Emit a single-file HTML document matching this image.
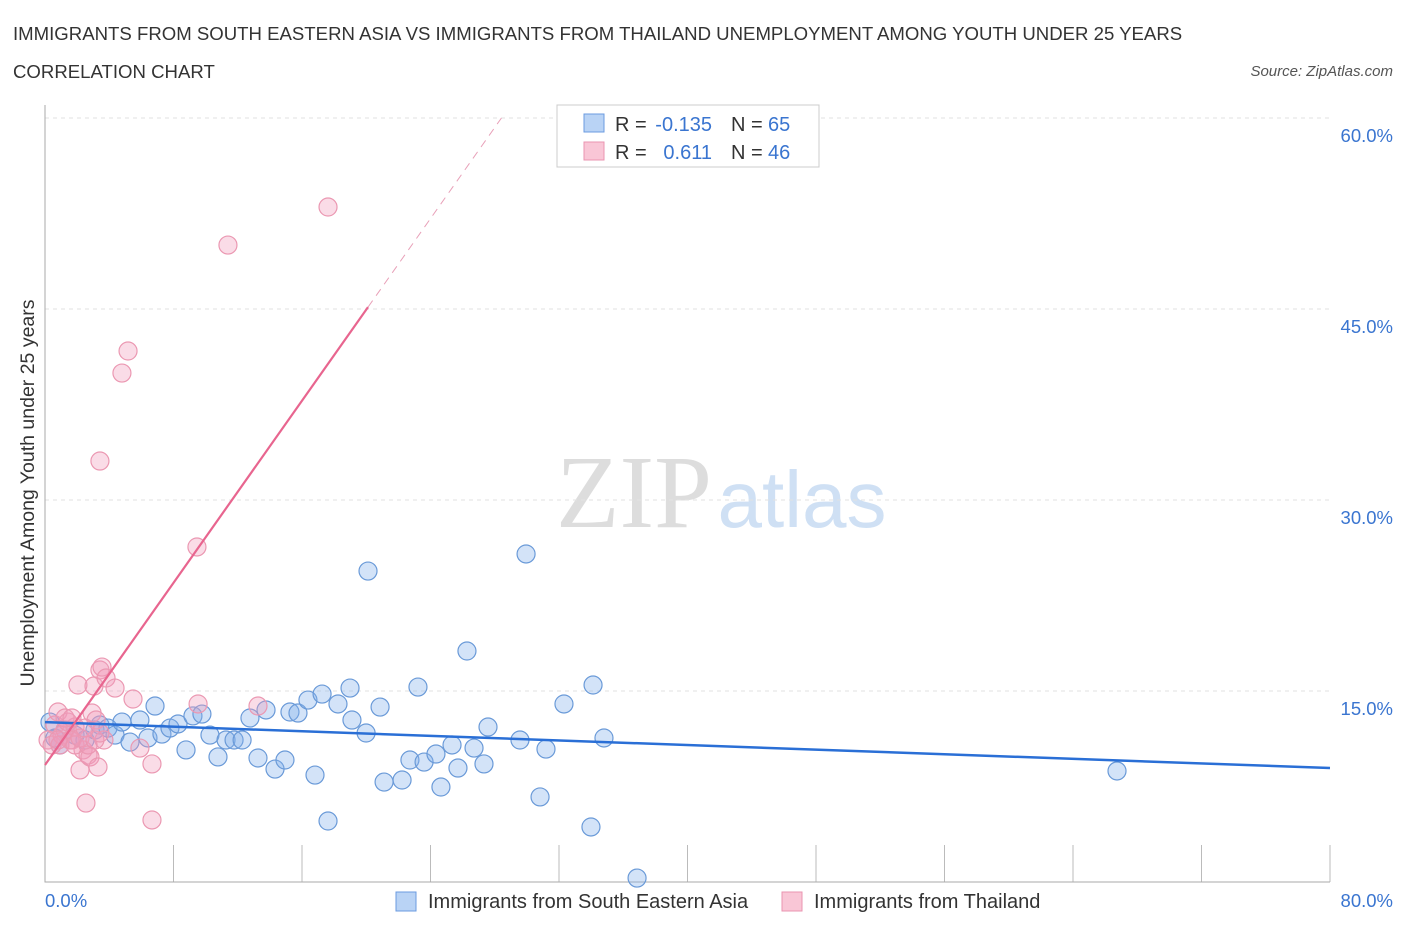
<!DOCTYPE html>
<html><head><meta charset="utf-8"><style>
body{margin:0;background:#fff;font-family:"Liberation Sans",sans-serif}
</style></head><body>
<svg id="c" width="1406" height="930" xmlns="http://www.w3.org/2000/svg">
<text x="13" y="40" font-size="18.6" fill="#333">IMMIGRANTS FROM SOUTH EASTERN ASIA VS IMMIGRANTS FROM THAILAND UNEMPLOYMENT AMONG YOUTH UNDER 25 YEARS</text>
<text x="13" y="78" font-size="18.6" fill="#333">CORRELATION CHART</text>
<text x="1393" y="76" font-size="15" fill="#555" font-style="italic" text-anchor="end">Source: ZipAtlas.com</text>
<g><text x="634" y="527" font-size="104" fill="#ddd" font-family="Liberation Serif" text-anchor="middle">ZIP</text><text x="802" y="527" font-size="80" fill="#cfe0f4" text-anchor="middle">atlas</text></g>
<g id="grid"></g><g id="marks"></g>
<text x="34" y="493" font-size="19.5" fill="#333" text-anchor="middle" transform="rotate(-90 34 493)">Unemployment Among Youth under 25 years</text>
<text x="45" y="907" font-size="18.5" fill="#3a75d0">0.0%</text>
<text x="1393" y="907" font-size="18.5" fill="#3a75d0" text-anchor="end">80.0%</text>
<g>
<rect x="557" y="105" width="262" height="62" fill="#fff" stroke="#ccc"/>
<rect x="584" y="114" width="20" height="18" fill="#b9d3f5" stroke="#6b9be0"/>
<rect x="584" y="142" width="20" height="18" fill="#f9c6d6" stroke="#ea94b0"/>
<text x="615" y="131" font-size="20" fill="#333">R =</text>
<text x="712" y="131" font-size="20" fill="#3a75d0" text-anchor="end">-0.135</text>
<text x="731" y="131" font-size="20" fill="#333">N =</text>
<text x="768" y="131" font-size="20" fill="#3a75d0">65</text>
<text x="615" y="159" font-size="20" fill="#333">R =</text>
<text x="712" y="159" font-size="20" fill="#3a75d0" text-anchor="end">0.611</text>
<text x="731" y="159" font-size="20" fill="#333">N =</text>
<text x="768" y="159" font-size="20" fill="#3a75d0">46</text>
</g>
<g>
<rect x="396" y="892" width="20" height="19" fill="#b9d3f5" stroke="#6b9be0"/>
<text x="428" y="908" font-size="20" fill="#333">Immigrants from South Eastern Asia</text>
<rect x="782" y="892" width="20" height="19" fill="#f9c6d6" stroke="#ea94b0"/>
<text x="814" y="908" font-size="20" fill="#333">Immigrants from Thailand</text>
</g>
</svg>
<script>
const yTicks=[15,30,45,60];
const xTicks=[0,8,16,24,32,40,48,56,64,72,80];
const blueX=[0.31,0.62,0.93,1.25,1.87,2.49,3.11,3.42,3.92,4.36,4.79,5.29,5.91,6.41,6.85,7.28,7.78,8.28,8.78,9.21,9.77,10.27,10.77,11.27,11.77,12.27,12.76,13.26,13.76,14.32,14.94,15.25,15.75,16.37,16.81,17.25,17.62,18.24,18.99,19.11,19.99,20.11,20.86,21.11,22.23,22.72,23.22,23.60,24.34,24.65,25.34,25.71,26.27,26.71,27.33,27.58,29.57,29.95,30.82,31.19,32.31,33.99,34.12,34.80,36.86,66.74];
const blueY=[12.56,11.31,10.76,11.94,11.54,11.15,11.94,12.33,12.09,11.54,12.56,10.99,12.72,11.31,13.82,11.62,12.09,12.41,10.37,13.04,13.19,11.54,9.82,11.15,11.15,11.15,12.88,9.74,13.51,8.87,9.58,13.35,13.27,14.29,8.40,14.76,4.79,13.98,15.23,12.72,11.70,24.42,13.74,7.85,8.01,9.58,15.31,9.42,10.05,7.46,10.76,8.95,18.14,10.52,9.27,12.17,11.15,25.76,6.68,10.44,13.98,4.32,15.47,11.31,0.31,8.72];
const pinkX=[0.19,0.44,0.62,0.81,1.06,1.25,1.43,1.68,1.87,2.05,2.18,2.37,2.55,2.68,2.80,2.93,3.05,3.18,3.30,3.42,3.55,3.67,3.80,4.36,4.79,5.17,5.48,5.91,6.66,6.66,9.46,9.53,11.39,13.26,17.62,0.93,1.25,1.56,1.87,2.18,2.68,3.11,3.42,1.68,0.81,2.49,3.42];
const pinkY=[11.15,10.76,12.33,13.35,11.54,11.94,12.56,11.15,12.17,15.47,8.80,10.37,6.20,9.97,9.82,13.27,15.39,12.72,9.03,16.65,16.88,11.15,16.02,15.23,39.97,41.70,14.37,10.52,9.27,4.87,26.31,13.98,50.02,13.82,53.01,10.76,12.88,11.15,10.76,11.31,10.76,11.15,11.70,12.88,11.15,12.09,33.06];
const blueTrend=[12.56,8.95];
const pinkTrend=[9.19,1.788];
const X=v=>45+v/80*1285, Y=v=>882-v/15*191;
const NS="http://www.w3.org/2000/svg";
const g=document.getElementById('grid'), m=document.getElementById('marks');
function mk(p,t,a){const e=document.createElementNS(NS,t);for(const k in a)e.setAttribute(k,a[k]);p.appendChild(e);return e;}
yTicks.forEach(t=>{
 const l=mk(g,'line',{x1:45,x2:1330,y1:Y(t),y2:Y(t),stroke:'#e2e2e2','stroke-dasharray':'4 4'});
 
 
 const tx=mk(g,'text',{x:1393,y:Y(t)+24,'font-size':18.5,fill:'#3a75d0','text-anchor':'end'});tx.textContent=t.toFixed(1)+'%';
 
 
});
xTicks.forEach(t=>{const l=mk(g,'line',{x1:X(t),x2:X(t),y1:845,y2:882,stroke:'#bbb'});
 
 });
const ax=mk(g,'path',{d:'M45 105V882H1330',fill:'none',stroke:'#aaa'});


blueX.forEach((v,i)=>{const c=mk(m,'circle',{cx:X(v),cy:Y(blueY[i]),r:9,fill:'rgba(130,175,235,0.35)',stroke:'#6a9ad8','stroke-width':1.2});
 
 });
pinkX.forEach((v,i)=>{const c=mk(m,'circle',{cx:X(v),cy:Y(pinkY[i]),r:9,fill:'rgba(242,155,185,0.35)',stroke:'#eb98b2','stroke-width':1.2});
 
 });
const bl=mk(m,'line',{x1:X(0),y1:Y(blueTrend[0]),x2:X(80),y2:Y(blueTrend[1]),stroke:'#2a6fd6','stroke-width':2.5});


const xe=20.11, xd=(60-pinkTrend[0])/pinkTrend[1];
const pl=mk(m,'line',{x1:X(0),y1:Y(pinkTrend[0]),x2:X(xe),y2:Y(pinkTrend[0]+pinkTrend[1]*xe),stroke:'#e8658f','stroke-width':2.2});


const pd=mk(m,'line',{x1:X(xe),y1:Y(pinkTrend[0]+pinkTrend[1]*xe),x2:X(xd),y2:Y(60),stroke:'#e8a0b8','stroke-width':1,'stroke-dasharray':'8 6'});


</script>
</body></html>
